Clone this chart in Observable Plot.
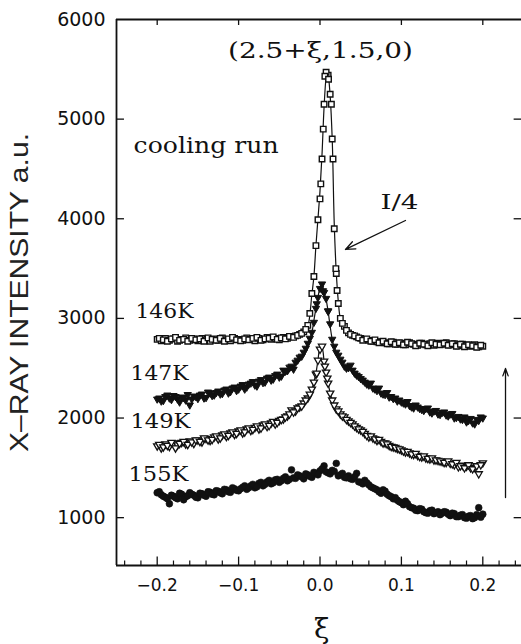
<!DOCTYPE html>
<html><head><meta charset="utf-8">
<script src="https://cdn.jsdelivr.net/npm/d3@7"></script>
<script src="https://cdn.jsdelivr.net/npm/@observablehq/plot@0.6"></script>
<style>html,body{margin:0;padding:0;background:#fff;} #chart svg{display:block;}</style>
</head><body><div id="chart"></div>
<script>
// ---------------- data ----------------
const xiGrid = [-0.200,-0.195,-0.190,-0.185,-0.180,-0.175,-0.170,-0.165,-0.160,-0.155,
 -0.150,-0.145,-0.140,-0.135,-0.130,-0.125,-0.120,-0.115,-0.110,-0.105,
 -0.100,-0.095,-0.090,-0.085,-0.080,-0.075,-0.070,-0.065,-0.060,-0.055,
 -0.050,-0.045,-0.040,-0.035,-0.030,-0.025,-0.020,-0.015,-0.010,-0.005,
 0.000,0.005,0.010,0.015,0.020,0.025,0.030,0.035,0.040,0.045,
 0.050,0.055,0.060,0.065,0.070,0.075,0.080,0.085,0.090,0.095,
 0.100,0.105,0.110,0.115,0.120,0.125,0.130,0.135,0.140,0.145,
 0.150,0.155,0.160,0.165,0.170,0.175,0.180,0.185,0.190,0.195,
 0.200];
const xiHalf = [-0.1975,-0.1925,-0.1875,-0.1825,-0.1775,-0.1725,-0.1675,-0.1625,-0.1575,-0.1525,
 -0.1475,-0.1425,-0.1375,-0.1325,-0.1275,-0.1225,-0.1175,-0.1125,-0.1075,-0.1025,
 -0.0975,-0.0925,-0.0875,-0.0825,-0.0775,-0.0725,-0.0675,-0.0625,-0.0575,-0.0525,
 -0.0475,-0.0425,-0.0375,-0.0325,-0.0275,-0.0225,-0.0175,-0.0125,-0.0075,-0.0025,
 0.0025,0.0075,0.0125,0.0175,0.0225,0.0275,0.0325,0.0375,0.0425,0.0475,
 0.0525,0.0575,0.0625,0.0675,0.0725,0.0775,0.0825,0.0875,0.0925,0.0975,
 0.1025,0.1075,0.1125,0.1175,0.1225,0.1275,0.1325,0.1375,0.1425,0.1475,
 0.1525,0.1575,0.1625,0.1675,0.1725,0.1775,0.1825,0.1875,0.1925,0.1975];

// 146K (intensity shown as I/4), open squares
const int146 = [2790,2775,2800,2780,2795,2770,2790,2805,2780,2795,
 2775,2800,2785,2770,2795,2780,2805,2785,2775,2800,
 2790,2780,2805,2790,2775,2800,2785,2810,2790,2800,
 2785,2810,2800,2815,2825,2840,2865,2930,3250,3730,
 4200,5150,5440,4800,3450,3000,2920,2855,2830,2815,
 2800,2790,2780,2770,2765,2760,2755,2745,2760,2740,
 2750,2735,2755,2740,2730,2750,2735,2745,2730,2750,
 2740,2755,2735,2745,2725,2740,2730,2720,2735,2715,
 2720];
const half146 = [2800,2785,2770,2795,2810,2780,2790,2770,2800,2785,
 2795,2770,2805,2790,2780,2800,2770,2795,2810,2785,
 2775,2795,2785,2800,2810,2780,2795,2800,2815,2790,
 2805,2795,2820,2810,2830,2850,2890,3050,3420,3990,
 4600,5470,5250,3900,3150,2950,2880,2840,2825,2805,
 2780,2795,2770,2785,2755,2770,2745,2765,2740,2755,
 2735,2760,2745,2725,2750,2740,2725,2755,2740,2735,
 2750,2730,2745,2720,2740,2715,2735,2725,2710,2730];
const ext146Xi = [0.001,0.004,0.006,0.0105,0.014,0.016,0.0195,0.021];
const ext146 =   [4350,4900,5430,5400,5150,4600,3500,3280];

// 147K, filled down-triangles
const int147 = [2190,2170,2215,2200,2225,2190,2210,2180,2130,2220,
 2195,2240,2205,2250,2230,2270,2245,2290,2265,2310,
 2290,2335,2310,2350,2330,2370,2355,2400,2380,2425,
 2410,2480,2475,2520,2560,2610,2660,2750,2860,3100,
 3300,3260,3070,2790,2660,2590,2520,2505,2480,2430,
 2395,2360,2330,2300,2275,2250,2235,2210,2195,2170,
 2160,2140,2125,2100,2110,2085,2095,2060,2070,2040,
 2055,2030,2040,2000,2015,1985,1960,1995,1940,1975,
 2000];
const half147 = [2200,2175,2230,2185,2215,2160,2205,2235,2190,2215,
 2230,2200,2260,2225,2255,2240,2280,2250,2300,2275,
 2320,2290,2340,2365,2320,2385,2360,2410,2390,2440,
 2420,2470,2510,2490,2580,2620,2700,2800,2960,3210,
 3345,3200,2945,2720,2630,2560,2500,2530,2450,2415,
 2380,2340,2350,2290,2300,2240,2255,2215,2200,2180,
 2150,2165,2110,2130,2095,2075,2100,2050,2075,2035,
 2060,2020,2045,2005,1990,2010,1975,1950,1985,2010];
const ext147Xi = [-0.004,0.0037,0.01];
const ext147 =   [3146,3277,3076];

// 149K, open down-triangles
const int149 = [1720,1700,1740,1715,1750,1730,1755,1740,1770,1745,
 1780,1760,1795,1775,1810,1790,1830,1815,1850,1835,
 1870,1850,1890,1875,1905,1890,1930,1915,1950,1940,
 1975,1990,2020,2080,2070,2110,2150,2200,2290,2440,
 2690,2570,2350,2180,2090,2040,2010,1970,1940,1905,
 1880,1845,1810,1800,1775,1765,1750,1725,1710,1695,
 1680,1660,1650,1635,1625,1610,1600,1590,1580,1575,
 1565,1555,1545,1530,1510,1525,1515,1500,1505,1440,
 1550];
const half149 = [1735,1710,1725,1755,1700,1745,1765,1735,1760,1780,
 1765,1800,1780,1785,1820,1800,1840,1825,1860,1845,
 1880,1860,1900,1885,1920,1900,1940,1925,1965,1955,
 1985,2010,2040,2060,2100,2120,2180,2240,2360,2580,
 2720,2460,2250,2130,2070,2020,1985,1955,1920,1890,
 1865,1825,1820,1790,1785,1750,1740,1715,1705,1690,
 1670,1665,1640,1645,1615,1620,1595,1600,1580,1570,
 1555,1570,1540,1555,1520,1500,1530,1490,1520,1530];
const ext149Xi = [-0.004,0.006,0.009];
const ext149 =   [2450,2520,2400];

// 155K, filled circles
const int155 = [1250,1230,1205,1140,1215,1190,1235,1210,1250,1225,
 1200,1240,1215,1255,1230,1265,1240,1280,1255,1290,
 1270,1305,1285,1320,1300,1345,1320,1360,1340,1380,
 1355,1395,1370,1480,1395,1420,1390,1430,1405,1445,
 1470,1520,1450,1475,1545,1430,1405,1420,1385,1445,
 1355,1375,1330,1300,1280,1245,1265,1220,1190,1175,
 1150,1165,1110,1095,1070,1085,1050,1070,1040,1060,
 1045,1055,1020,1040,1010,1030,995,1020,1000,1100,
 1035];
const half155 = [1260,1215,1190,1225,1200,1245,1180,1220,1235,1205,
 1245,1225,1260,1235,1270,1250,1285,1260,1300,1275,
 1290,1320,1300,1335,1310,1355,1335,1375,1350,1385,
 1370,1410,1385,1400,1430,1410,1440,1415,1455,1430,
 1490,1460,1440,1465,1420,1445,1400,1390,1410,1360,
 1340,1350,1310,1290,1260,1280,1235,1210,1200,1160,
 1130,1140,1100,1075,1090,1060,1045,1075,1050,1030,
 1060,1035,1045,1010,1025,1000,1015,990,1030,1005];

// fitted curves near the peak
const fitXi = [-0.05,-0.04,-0.03,-0.02,-0.015,-0.01,-0.0075,-0.005,-0.0025,0,0.0025,0.005,0.0075,0.009,0.0105,0.0125,0.015,0.0175,0.02,0.0225,0.025,0.03,0.04,0.05,0.06];
const fit146 = [2800,2810,2825,2860,2920,3240,3420,3730,4000,4280,4650,5120,5420,5480,5420,5230,4800,3950,3460,3170,3000,2900,2830,2800,2785];
const fit147 = [2410,2450,2530,2660,2750,2860,2980,3100,3210,3310,3340,3260,3190,3120,3040,2920,2790,2710,2660,2620,2590,2515,2470,2400,2330];
const fit149 = [1960,2010,2070,2150,2200,2290,2360,2450,2580,2700,2700,2570,2450,2390,2330,2250,2180,2130,2090,2070,2045,2010,1940,1880,1820];

const seriesNames = ["146K","147K","149K","155K"];
const yTicks = [1000,2000,3000,4000,5000,6000];
const xTicks = [-0.2,-0.1,0,0.1,0.2];
const xMinor = [-0.24,-0.22,-0.18,-0.16,-0.14,-0.12,-0.08,-0.06,-0.04,-0.02,0.02,0.04,0.06,0.08,0.12,0.14,0.16,0.18,0.22,0.24];
const titleText = "(2.5+ξ,1.5,0)";
const runText = "cooling run";
const scaleText = "I/4";
const yLabel = "X–RAY INTENSITY a.u.";
const xLabel = "ξ";

// ---------------- build ----------------
const rows = (xs, ys) => xs.map((x, i) => ({xi: x, v: ys[i]}));
const d146 = rows(xiGrid.concat(xiHalf, ext146Xi), int146.concat(half146, ext146));
const d147 = rows(xiGrid.concat(xiHalf, ext147Xi), int147.concat(half147, ext147));
const d149 = rows(xiGrid.concat(xiHalf, ext149Xi), int149.concat(half149, ext149));
const d155 = rows(xiGrid.concat(xiHalf), int155.concat(half155));
const f146 = rows(fitXi, fit146), f147 = rows(fitXi, fit147), f149 = rows(fitXi, fit149);

const triDown = {draw(ctx, size) {
  const s = Math.sqrt(size * 4 / Math.sqrt(3)), h = s * Math.sqrt(3) / 2;
  ctx.moveTo(-s / 2, -h / 3); ctx.lineTo(s / 2, -h / 3); ctx.lineTo(0, 2 * h / 3); ctx.closePath();
}};

const X0 = -0.25, X1 = 0.25, Y0 = 520, Y1 = 6000;
const ink = "#111";
const serif = "DejaVu Serif";
const fmtX = d => d === 0 ? "0.0" : (d < 0 ? "−" : "") + Math.abs(d).toFixed(1);

const svg = Plot.plot({
  width: 521, height: 644,
  marginLeft: 0, marginRight: 0, marginTop: 0, marginBottom: 0,
  x: {type: "linear", domain: [X0, X1], range: [116, 523], axis: null},
  y: {type: "linear", domain: [Y0, Y1], range: [565, 19], axis: null},
  style: {background: "white", color: ink, fontFamily: "DejaVu Sans"},
  marks: [
    // frame
    Plot.ruleY([Y1, Y0], {x1: X0, x2: X1, stroke: ink, strokeWidth: 1.8}),
    Plot.ruleX([X0], {y1: Y0, y2: Y1, stroke: ink, strokeWidth: 1.8}),
    // ticks
    Plot.ruleY(yTicks.slice(0, 5), {x1: X0, x2: X0 + 0.0098, stroke: ink, strokeWidth: 1.3}),
    Plot.ruleY(yTicks.slice(0, 5), {x1: X1 - 0.0115, x2: X1, stroke: ink, strokeWidth: 1.3}),
    Plot.ruleX(xTicks, {y1: Y0, y2: Y0 + 85, stroke: ink, strokeWidth: 1.3}),
    Plot.ruleX(xMinor, {y1: Y0, y2: Y0 + 45, stroke: ink, strokeWidth: 1.2}),
    Plot.ruleX(xTicks, {y1: Y1 - 60, y2: Y1, stroke: ink, strokeWidth: 1.3}),
    // tick labels
    Plot.text(yTicks, {x: X0, y: d => d, dx: -11, text: d => String(d), textAnchor: "end", lineAnchor: "middle", fontSize: 19, fontFamily: "DejaVu Sans", fill: ink}),
    Plot.text(xTicks, {x: d => d, y: Y0, dy: 20, text: fmtX, textAnchor: "middle", lineAnchor: "middle", fontSize: 17, fontFamily: "DejaVu Sans", fill: ink}),
    // axis labels
    Plot.text([yLabel], {x: -0.369, y: 3260, text: d => d, rotate: -90, textAnchor: "middle", lineAnchor: "middle", fontSize: 25, fontFamily: "Liberation Sans", fill: "#222"}),
    Plot.text([xLabel], {x: 0.002, y: -122, text: d => d, textAnchor: "middle", lineAnchor: "middle", fontSize: 28, fontFamily: serif, fill: ink}),
    // fit curves
    Plot.line(f149, {x: "xi", y: "v", curve: "catmull-rom", stroke: ink, strokeWidth: 1.2}),
    Plot.line(f147, {x: "xi", y: "v", curve: "catmull-rom", stroke: ink, strokeWidth: 1.2}),
    Plot.line(f146, {x: "xi", y: "v", curve: "catmull-rom", stroke: ink, strokeWidth: 1.2}),
    // data
    Plot.dot(d155, {x: "xi", y: "v", r: 3.4, fill: ink, stroke: ink, strokeWidth: 0.6}),
    Plot.dot(d149, {x: "xi", y: "v", r: 2.7, symbol: triDown, fill: "white", stroke: ink, strokeWidth: 1.3}),
    Plot.dot(d147, {x: "xi", y: "v", r: 2.7, symbol: triDown, fill: ink, stroke: ink, strokeWidth: 1}),
    Plot.dot(d146, {x: "xi", y: "v", r: 3.1, symbol: "square", fill: "white", stroke: ink, strokeWidth: 1.4}),
    // annotations
    Plot.text([titleText], {x: 0.0006, y: 5609, text: d => d, textAnchor: "middle", lineAnchor: "bottom", fontSize: 22, fontFamily: serif, fill: ink}),
    Plot.text([runText], {x: -0.229, y: 4665, text: d => d, textAnchor: "start", lineAnchor: "bottom", fontSize: 22, fontFamily: serif, fill: ink}),
    Plot.text([scaleText], {x: 0.0743, y: 4103, text: d => d, textAnchor: "start", lineAnchor: "bottom", fontSize: 21, fontFamily: serif, fill: ink}),
    Plot.text(seriesNames, {x: [-0.2267, -0.2328, -0.2328, -0.2353], y: [3009, 2377, 1905, 1373], text: d => d, textAnchor: "start", lineAnchor: "bottom", fontSize: 21, fontFamily: serif, fill: ink}),
    Plot.arrow([0], {x1: 0.105, y1: 3983, x2: 0.0313, y2: 3692, stroke: ink, strokeWidth: 1.3, headLength: 12, headAngle: 45}),
    Plot.arrow([0], {x1: 0.2279, y1: 1202, x2: 0.2279, y2: 2497, stroke: ink, strokeWidth: 1.3, headLength: 9, headAngle: 40})
  ]
});

// stretch some labels to the lengths they occupy in the figure
const lengths = {[yLabel]: 319, [titleText]: 185, [runText]: 145, [scaleText]: 38, "146K": 58, "147K": 58, "149K": 60, "155K": 60};
d3.select(svg).selectAll("text").each(function () {
  const L = lengths[this.textContent];
  if (L) { this.setAttribute("textLength", L); this.setAttribute("lengthAdjust", "spacingAndGlyphs"); }
});
document.getElementById("chart").appendChild(svg);
</script></body></html>
